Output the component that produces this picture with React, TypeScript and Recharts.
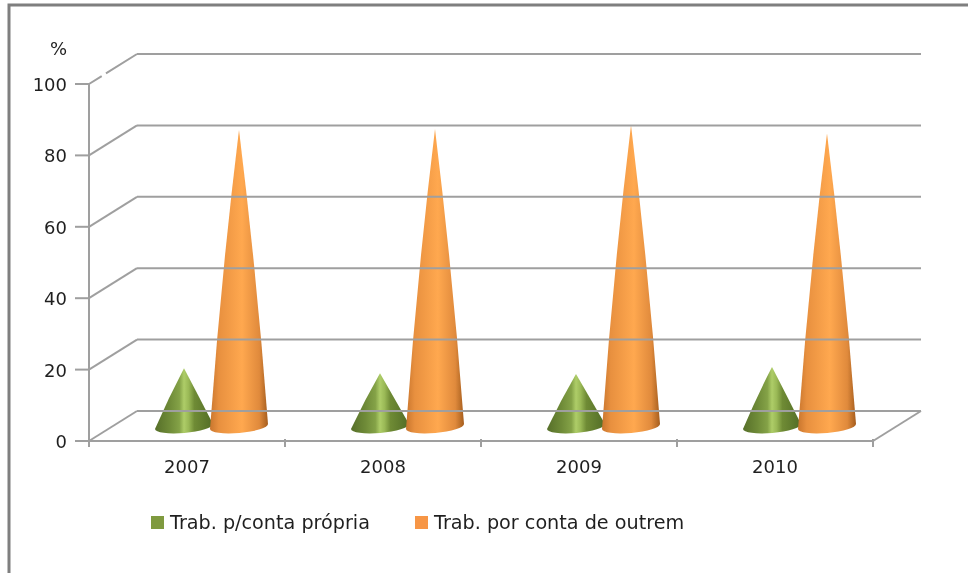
import { BarChart, Bar, XAxis, YAxis, Legend } from "recharts";

const years = ["2007", "2008", "2009", "2010"];
const contaPropria = [16.2, 14.8, 14.6, 16.5];
const contaOutrem = [83, 83.2, 84.3, 82];
const yTicks = [0, 20, 40, 60, 80, 100];

const data = years.map((year, i) => ({
  year,
  propria: contaPropria[i],
  outrem: contaOutrem[i],
}));

const WIDTH = 968;
const HEIGHT = 573;
const PLOT_LEFT = 89;
const PLOT_RIGHT = 873;
const DEPTH_X = 48;
const DEPTH_Y = 30;
const AXIS_COLOR = "#9f9f9f";
const FRAME_COLOR = "#7f7f7f";
const TEXT_COLOR = "#1f1f1f";
const FONT = "'DejaVu Sans', sans-serif";

// cone stands halfway through the depth of the floor
const Cone = ({ x, y, width, height, gradient }: any) => {
  const cx = x + width / 2 + DEPTH_X / 2;
  const apex = y - DEPTH_Y / 2;
  const base = y + height - DEPTH_Y / 2;
  const rx = width / 2;
  // sides bow out a little, more on the tall cones
  const bow = height * 0.012;
  const midY = (apex + base) / 2;
  return (
    <path
      d={`M${cx} ${apex} Q${cx + rx / 2 + bow} ${midY} ${cx + rx} ${base - 2} A${rx} 6.5 -5 0 1 ${cx - rx} ${base + 3} Q${cx - rx / 2 - bow} ${midY} ${cx} ${apex} Z`}
      fill={`url(#${gradient})`}
    />
  );
};

const YTick = ({ x, y, payload }: any) => {
  const isTop = payload.value === 100;
  const isFloor = payload.value === 0;
  return (
    <g>
      <line x1={x - 6} x2={PLOT_LEFT} y1={y} y2={y} stroke={AXIS_COLOR} strokeWidth={2} />
      <line
        x1={PLOT_LEFT}
        y1={y}
        x2={PLOT_LEFT + DEPTH_X}
        y2={y - DEPTH_Y}
        stroke={AXIS_COLOR}
        strokeWidth={2}
        strokeDasharray={isTop ? "15 5 60" : undefined}
      />
      <line
        x1={PLOT_LEFT + DEPTH_X}
        y1={y - DEPTH_Y}
        x2={PLOT_RIGHT + DEPTH_X}
        y2={y - DEPTH_Y}
        stroke={AXIS_COLOR}
        strokeWidth={2}
      />
      {isFloor && (
        <line
          x1={PLOT_RIGHT}
          y1={y}
          x2={PLOT_RIGHT + DEPTH_X}
          y2={y - DEPTH_Y}
          stroke={AXIS_COLOR}
          strokeWidth={2}
        />
      )}
      <text x={67} y={y + 7} textAnchor="end" fontSize={18} fill={TEXT_COLOR} fontFamily={FONT}>
        {payload.value}
      </text>
      {isTop && (
        <text x={67} y={y - 29} textAnchor="end" fontSize={18} fill={TEXT_COLOR} fontFamily={FONT}>
          %
        </text>
      )}
    </g>
  );
};

const XTick = ({ x, y, payload, index }: any) => {
  const band = (PLOT_RIGHT - PLOT_LEFT) / years.length;
  const left = x - band / 2;
  return (
    <g>
      <line x1={left} x2={left} y1={y - 8} y2={y} stroke={AXIS_COLOR} strokeWidth={2} />
      {index === years.length - 1 && (
        <line x1={left + band} x2={left + band} y1={y - 8} y2={y} stroke={AXIS_COLOR} strokeWidth={2} />
      )}
      <text x={x} y={y + 26} textAnchor="middle" fontSize={18} fill={TEXT_COLOR} fontFamily={FONT}>
        {payload.value}
      </text>
    </g>
  );
};

const LegendRow = ({ payload }: any) => (
  <div style={{ position: "relative", height: 24, fontFamily: FONT, fontSize: 19.2, color: TEXT_COLOR }}>
    {payload.map((entry: any, i: number) => (
      <div
        key={entry.value}
        style={{ position: "absolute", left: i === 0 ? 151 : 415, top: 0, display: "flex", alignItems: "center", whiteSpace: "nowrap" }}
      >
        <span style={{ width: 13, height: 13, background: entry.color, marginRight: 6 }} />
        {entry.value}
      </div>
    ))}
  </div>
);

const App = () => (
  <div style={{ position: "fixed", left: 0, top: 0, width: WIDTH, height: HEIGHT }}>
    <BarChart
      width={WIDTH}
      height={HEIGHT}
      data={data}
      margin={{ top: 84, right: WIDTH - PLOT_RIGHT, bottom: 0, left: 0 }}
      barSize={58}
      barGap={-3}
    >
      <defs>
        <linearGradient id="coneGreen" x1="0" x2="1" y1="0" y2="0">
          <stop offset="0%" stopColor="#566f29" />
          <stop offset="25%" stopColor="#6f8b38" />
          <stop offset="42%" stopColor="#84a247" />
          <stop offset="50%" stopColor="#aecd68" />
          <stop offset="58%" stopColor="#9ab956" />
          <stop offset="68%" stopColor="#6f8b35" />
          <stop offset="100%" stopColor="#526c26" />
        </linearGradient>
        <linearGradient id="coneOrange" x1="0" x2="1" y1="0" y2="0">
          <stop offset="0%" stopColor="#c9762e" />
          <stop offset="15%" stopColor="#e8903f" />
          <stop offset="55%" stopColor="#ffa84f" />
          <stop offset="85%" stopColor="#e08a3c" />
          <stop offset="100%" stopColor="#a55d1d" />
        </linearGradient>
      </defs>
      {/* window frame, only left and top edges show in the crop */}
      <path d={`M9 ${HEIGHT} V5 H${WIDTH}`} fill="none" stroke={FRAME_COLOR} strokeWidth={3} />
      <XAxis
        dataKey="year"
        height={108}
        axisLine={{ stroke: AXIS_COLOR, strokeWidth: 2 }}
        tickLine={false}
        tick={<XTick />}
        tickMargin={0}
        interval={0}
      />
      <YAxis
        width={PLOT_LEFT}
        domain={[0, 100]}
        ticks={yTicks}
        interval={0}
        axisLine={{ stroke: AXIS_COLOR, strokeWidth: 2 }}
        tickLine={false}
        tick={<YTick />}
      />
      <Legend
        content={<LegendRow />}
        wrapperStyle={{ left: 0, width: WIDTH, bottom: 38 }}
      />
      <Bar
        dataKey="propria"
        name="Trab. p/conta própria"
        fill="#7f9a3f"
        shape={<Cone gradient="coneGreen" />}
        isAnimationActive={false}
      />
      <Bar
        dataKey="outrem"
        name="Trab. por conta de outrem"
        fill="#f79646"
        shape={<Cone gradient="coneOrange" />}
        isAnimationActive={false}
      />
    </BarChart>
  </div>
);

export default App;
